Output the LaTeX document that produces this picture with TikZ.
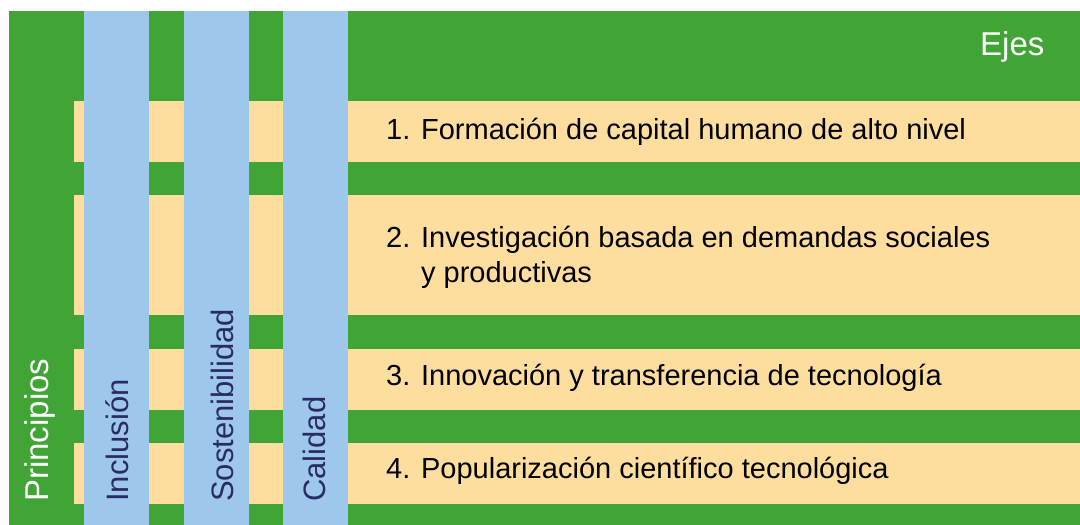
\documentclass[tikz,border=0pt]{standalone}
\usepackage{fontspec}
\setmainfont{Liberation Sans}
\definecolor{ejegreen}{HTML}{40A535}
\definecolor{colblue}{HTML}{9DC8EC}
\definecolor{rowbeige}{HTML}{FDDE9F}
\definecolor{labnavy}{HTML}{2B2B63}

\begin{document}
\begin{tikzpicture}[x=1pt, y=-1pt,
  principio/.style={rotate=90, anchor=base west, inner sep=0pt, text=labnavy, font=\fontsize{31}{37}\selectfont},
  eje/.style={anchor=base west, inner sep=0pt, align=left, font=\fontsize{29}{35}\selectfont}]
\useasboundingbox (0,0) rectangle (1080,525);
\fill[ejegreen] (9,11) rectangle (1080,525);
% rows for the axes
\foreach \ya/\yb in {101/162, 195/315, 349/410, 443/504}
  \fill[rowbeige] (74,\ya) rectangle (1080,\yb);
% columns for the principles
\foreach \cx in {84, 184, 283}
  \fill[colblue] (\cx,11) rectangle ++(65,514);
\node[anchor=base west, inner sep=0pt, text=white, font=\fontsize{33}{40}\selectfont] (ejes) at (980,55) {Ejes};
\node[principio, text=white, font=\fontsize{33}{40}\selectfont] (principios) at (48,502) {Principios};
\node[principio] (inclusion) at (128,502) {Inclusión};
\node[principio] (sostenibilidad) at (233,502) {Sostenibilidad};
\node[principio] (calidad) at (325,502) {Calidad};
\node[eje] (eje1) at (386,139) {1. Formación de capital humano de alto nivel};
\node[eje, anchor=west] (eje2) at (386,257) {2. Investigación basada en demandas sociales\\\hphantom{2. }y productivas};
\node[eje] (eje3) at (386,385) {3. Innovación y transferencia de tecnología};
\node[eje] (eje4) at (386,478) {4. Popularización científico tecnológica};
\end{tikzpicture}
\end{document}
